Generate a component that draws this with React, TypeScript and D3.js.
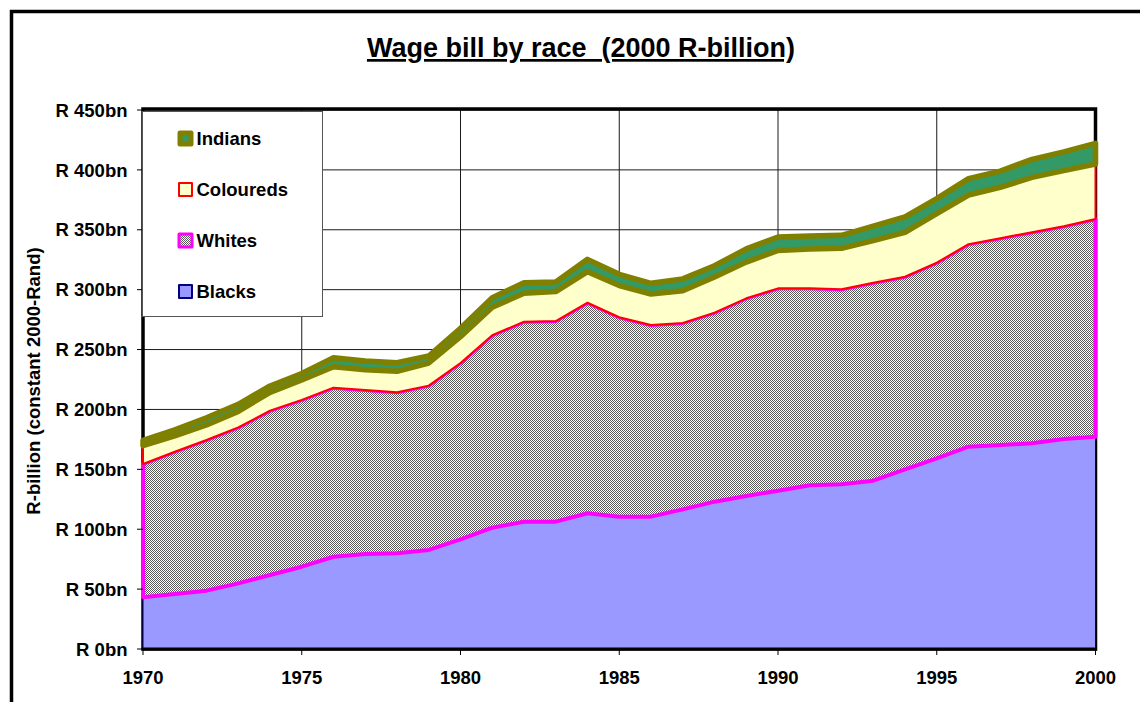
import React from 'react';
import * as d3 from 'd3';

const years = [1970, 1971, 1972, 1973, 1974, 1975, 1976, 1977, 1978, 1979, 1980, 1981, 1982, 1983, 1984, 1985, 1986, 1987, 1988, 1989, 1990, 1991, 1992, 1993, 1994, 1995, 1996, 1997, 1998, 1999, 2000];
const blacks = [43.2, 45.9, 48.7, 54.8, 61.8, 68.7, 77.0, 79.3, 79.9, 82.7, 91.6, 101.3, 106.3, 106.3, 113.3, 110.5, 110.5, 116.6, 123.0, 127.7, 132.2, 136.7, 137.5, 140.5, 150.0, 159.2, 168.9, 170.3, 171.7, 175.3, 177.3];
const whites = [111.3, 118.8, 125.8, 130.2, 137.2, 139.3, 141.2, 136.9, 134.4, 137.2, 147.2, 160.7, 167.0, 167.5, 175.8, 166.5, 160.0, 155.6, 157.8, 165.1, 168.9, 164.4, 162.8, 165.3, 160.8, 163.3, 169.1, 172.7, 176.3, 177.7, 181.7];
const coloureds = [15.3, 13.3, 12.5, 13.4, 15.3, 16.6, 17.5, 17.0, 17.5, 18.9, 22.0, 23.3, 23.7, 24.6, 25.9, 26.4, 25.9, 26.9, 29.8, 30.2, 31.6, 32.9, 34.2, 35.2, 37.1, 41.0, 41.0, 42.5, 45.7, 46.4, 45.9];
const indians = [4.4, 5.0, 6.0, 5.9, 5.3, 5.4, 7.5, 7.2, 7.2, 5.8, 7.0, 8.0, 8.8, 8.0, 10.3, 9.4, 8.9, 9.9, 9.4, 11.0, 11.3, 10.8, 10.9, 12.0, 12.8, 12.5, 13.7, 13.5, 15.1, 15.6, 17.3];

const seriesNames = ['Blacks', 'Whites', 'Coloureds', 'Indians'];
const yTickValues = [0, 50, 100, 150, 200, 250, 300, 350, 400, 450];
const yTickLabels = ['R 0bn', 'R 50bn', 'R 100bn', 'R 150bn', 'R 200bn', 'R 250bn', 'R 300bn', 'R 350bn', 'R 400bn', 'R 450bn'];
const xTickValues = [1970, 1975, 1980, 1985, 1990, 1995, 2000];
const legendOrder = ['Indians', 'Coloureds', 'Whites', 'Blacks'];

const title = 'Wage bill by race  (2000 R-billion)';
const yTitle = 'R-billion (constant 2000-Rand)';

const FONT = '"Liberation Sans", Arial, sans-serif';

const styles: Record<string, { fill: string; stroke: string; sw: number }> = {
  Blacks: { fill: '#9999FF', stroke: '#000080', sw: 1 },
  Whites: { fill: 'url(#hatch)', stroke: '#FF00FF', sw: 4 },
  Coloureds: { fill: '#FFFFCC', stroke: '#FF0000', sw: 2 },
  Indians: { fill: '#339966', stroke: '#808000', sw: 5.5 },
};

export default function App() {
  const W = 1140, H = 702;
  const left = 143, right = 1095.5, top = 110, bottom = 649;
  const x = d3.scaleLinear().domain([1970, 2000]).range([left, right]);
  const y = d3.scaleLinear().domain([0, 450]).range([bottom, top]);

  const table = years.map((yr, i) => ({
    year: yr,
    Blacks: blacks[i],
    Whites: whites[i],
    Coloureds: coloureds[i],
    Indians: indians[i],
  }));
  const stack = d3.stack<any>().keys(seriesNames);
  const layers = stack(table);
  const area = d3
    .area<any>()
    .x((d) => x(d.data.year))
    .y0((d) => y(d[0]))
    .y1((d) => y(d[1]));

  const hatchPixels: [number, number][] = [];
  for (let py = 0; py < 4; py++) {
    for (let px = 0; px < 4; px++) {
      if ((px + py) % 2 === 0) hatchPixels.push([px, py]);
    }
  }
  const hatchPath = hatchPixels.map(([px, py]) => `M${px},${py}h1v1h-1z`).join('');

  const legendX = 143, legendY = 112, legendW = 180, legendH = 205;
  const legendRowY = (i: number) => 138.5 + i * 51;

  return (
    <svg
      width={W}
      height={H}
      style={{ position: 'absolute', left: 0, top: 0, background: '#fff' }}
      fontFamily={FONT}
    >
      <defs>
        <pattern id="hatch" width={4} height={4} patternUnits="userSpaceOnUse">
          <rect width={4} height={4} fill="#ffffff" />
          <path d={hatchPath} fill="#5a5a5a" shapeRendering="crispEdges" />
        </pattern>
      </defs>
      <rect x={0} y={0} width={W} height={H} fill="#fff" />
      {/* outer chart border */}
      <rect x={11.5} y={11.5} width={1300} height={900} fill="none" stroke="#000" strokeWidth={3.5} />

      {/* title */}
      <text
        x={581}
        y={57}
        textAnchor="middle"
        fontSize={27}
        fontWeight="bold"
        style={{ whiteSpace: 'pre', textDecoration: 'underline' }}
      >
        {title}
      </text>

      {/* gridlines */}
      {yTickValues.map((v) => (
        <line key={'gy' + v} x1={left} x2={right} y1={y(v)} y2={y(v)} stroke="#1a1a1a" strokeWidth={1} />
      ))}
      {xTickValues.map((v) => (
        <line key={'gx' + v} x1={x(v)} x2={x(v)} y1={top} y2={bottom} stroke="#1a1a1a" strokeWidth={1} />
      ))}

      {/* plot frame */}
      <rect x={left} y={top - 1} width={right - left} height={bottom - top + 1} fill="none" stroke="#000" strokeWidth={3.5} />

      {/* areas */}
      {layers.map((layer) => {
        const s = styles[layer.key];
        return (
          <path
            key={layer.key}
            d={area(layer) + 'Z'}
            fill={s.fill}
            stroke={s.stroke}
            strokeWidth={s.sw}
            strokeLinejoin="round"
          />
        );
      })}

      {/* axis line over areas at bottom */}
      <line x1={left - 1.5} x2={right + 1.5} y1={bottom} y2={bottom} stroke="#000" strokeWidth={3} />

      {/* y ticks */}
      {yTickValues.map((v, i) => (
        <g key={'yt' + v}>
          <line x1={left - 6} x2={left} y1={y(v)} y2={y(v)} stroke="#000" strokeWidth={1} />
          <text
            x={127.5}
            y={y(v)}
            dy="0.36em"
            textAnchor="end"
            fontSize={18.5}
            fontWeight="bold"
          >
            {yTickLabels[i]}
          </text>
        </g>
      ))}

      {/* x ticks */}
      {xTickValues.map((v) => (
        <g key={'xt' + v}>
          <line x1={x(v)} x2={x(v)} y1={bottom} y2={bottom + 6} stroke="#000" strokeWidth={1} />
          <text x={x(v)} y={684} textAnchor="middle" fontSize={18.5} fontWeight="bold">
            {v}
          </text>
        </g>
      ))}

      {/* y axis title */}
      <text
        transform={`translate(39.5, 381) rotate(-90)`}
        textAnchor="middle"
        fontSize={18.5}
        fontWeight="bold"
      >
        {yTitle}
      </text>

      {/* legend */}
      <rect x={legendX - 0.5} y={legendY - 0.5} width={legendW} height={legendH} fill="#fff" stroke="#555" strokeWidth={1} />
      {legendOrder.map((name, i) => {
        const s = styles[name];
        const cy = legendRowY(i);
        const isInd = name === 'Indians';
        const size = isInd ? 11 : 13;
        return (
          <g key={'lg' + name}>
            <rect
              x={185.5 - size / 2}
              y={cy - size / 2}
              width={size}
              height={size}
              fill={s.fill}
              stroke={s.stroke}
              strokeWidth={isInd ? 5 : name === 'Whites' ? 3 : 2}
              strokeLinejoin="round"
            />
            <text x={196.5} y={cy} dy="0.36em" fontSize={18.5} fontWeight="bold">
              {name}
            </text>
          </g>
        );
      })}
    </svg>
  );
}
